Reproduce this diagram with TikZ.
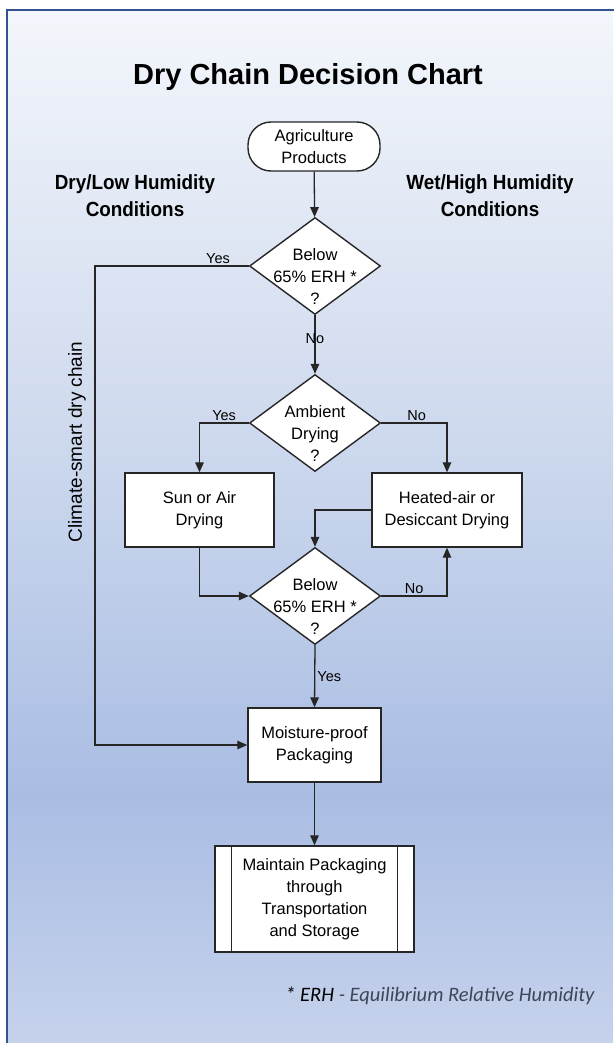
\documentclass[tikz,border=0pt]{standalone}
\usepackage{fontspec}
\setmainfont{Liberation Sans}
\newfontfamily\headfont[FakeStretch=0.92]{Liberation Sans}
\newfontfamily\notefont{Carlito}
\usetikzlibrary{arrows.meta,shapes.geometric}

\definecolor{bgtop}{HTML}{F3F6FB}
\definecolor{bgmid}{HTML}{CFDAEE}
\definecolor{bgdeep}{HTML}{A9BDE3}
\definecolor{bgbot}{HTML}{C6D2EC}
\definecolor{frameblue}{HTML}{34528F}
\definecolor{linegray}{HTML}{262626}
\definecolor{notegray}{HTML}{3C4658}

% background runs light at the top, deepest near the packaging, lighter again at the foot
\pgfdeclareverticalshading{chartbg}{100bp}{color(0bp)=(bgbot); color(25bp)=(bgbot);
  color(37bp)=(bgdeep); color(55bp)=(bgmid); color(75bp)=(bgtop); color(100bp)=(bgtop)}

\begin{document}
\begin{tikzpicture}[x=1pt,y=-1pt,
  box/.style = {rectangle, draw=linegray, line width=1.4pt, fill=white,
     inner sep=0pt, align=center, font=\fontsize{16.5}{22}\selectfont},
  startbox/.style = {box, rounded corners=23pt},
  decide/.style = {diamond, draw=linegray, line width=1.4pt, fill=white,
     inner sep=0pt, minimum width=131pt, minimum height=97pt},
  inside/.style = {align=center, font=\fontsize{16.5}{22}\selectfont, yshift=-11pt},
  lbl/.style = {font=\fontsize{14.5}{16}\selectfont, inner sep=2pt},
  side/.style = {align=center, font=\headfont\bfseries\fontsize{20.5}{27}\selectfont},
  arr/.style = {draw=linegray, line width=1.3pt, -{Triangle[length=10pt,width=8.5pt]}},
  link/.style = {draw=linegray, line width=1.3pt}]

\useasboundingbox (0,0) rectangle (613,1043);
\fill[white] (0,0) rectangle (613,1043);
\shade[shading=chartbg] (7,10) rectangle (613,1043);
\draw[frameblue, line width=2.2pt] (7,1050) -- (7,10) -- (620,10);

% title and the two sides
\node[font=\bfseries\fontsize{29}{34}\selectfont, anchor=base] (title) at (308,85) {Dry Chain Decision Chart};
\node[side] (dryside) at (135,196) {Dry/Low Humidity\\Conditions};
\node[side] (wetside) at (490,196) {Wet/High Humidity\\Conditions};

% flow
\node[startbox, minimum width=132pt, minimum height=49pt] (agri) at (314,146.5) {Agriculture\\Products};
\node[decide, label={[inside]center:Below\\65\% ERH *\\?}] (erhA) at (315,266) {};
\node[decide, label={[inside]center:Ambient\\Drying\\?}] (ambient) at (315,423) {};
\node[box, minimum width=149pt, minimum height=74pt] (sun) at (199.5,510) {Sun or Air\\Drying};
\node[box, minimum width=150pt, minimum height=74pt] (heat) at (447,510) {Heated-air or\\Desiccant Drying};
\node[decide, label={[inside]center:Below\\65\% ERH *\\?}] (erhB) at (315,596) {};
\node[box, minimum width=133pt, minimum height=74pt] (moist) at (314.5,745) {Moisture-proof\\Packaging};
\node[box, minimum width=199pt, minimum height=106pt] (keep) at (314.5,899)
   {Maintain Packaging\\through\\Transportation\\and Storage};
\draw[link] ([xshift=17pt]keep.north west) -- ([xshift=17pt]keep.south west)
   ([xshift=-17pt]keep.north east) -- ([xshift=-17pt]keep.south east);

\coordinate (bypass) at (95,266);
\node[rotate=90, font=\fontsize{19}{22}\selectfont] (climate) at (77,442) {Climate-smart dry chain};

\draw[arr] (agri) -- (erhA);
\draw[arr] (erhA.west) -- node[lbl, above, pos=0.2] {Yes} (bypass) |- (moist.west);
\draw[arr] (erhA.south) -- node[lbl, pos=0.4] {No} (ambient.north);
\draw[arr] (ambient.west) -| node[lbl, above, pos=0.25] {Yes} (sun.north);
\draw[arr] (ambient.east) -| node[lbl, above, pos=0.27] {No} (heat.north);
\draw[arr] (heat.west) -| (erhB.north);
\draw[arr] (sun.south) |- (erhB.west);
\draw[arr] (erhB.east) -| node[lbl, above, pos=0.25] {No} (heat.south);
\draw[arr] (erhB.south) -- node[lbl, right] {Yes} (moist.north);
\draw[arr] (moist) -- (keep);

\node[anchor=base east, font=\notefont\itshape\fontsize{20.5}{24}\selectfont] (note) at (598,1001)
   {* ERH \textcolor{notegray}{- Equilibrium Relative Humidity}};
\end{tikzpicture}
\end{document}
